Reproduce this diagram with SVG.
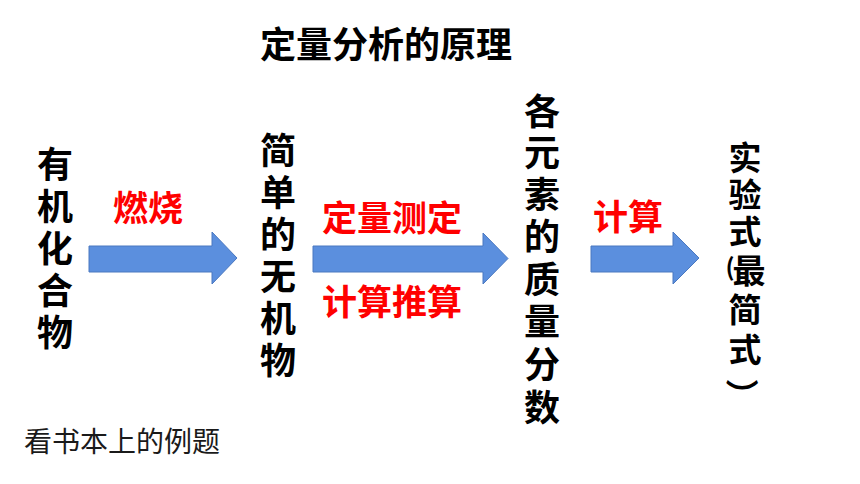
<svg xmlns="http://www.w3.org/2000/svg" width="860" height="484" viewBox="0 0 860 484">
<style>
.n{font-family:"Noto Sans CJK SC","Noto Sans",sans-serif;font-weight:700;font-size:36px;fill:#000;text-anchor:middle}
.c{font-size:33px}
.lab{font-family:"Noto Sans CJK SC","Noto Sans",sans-serif;font-weight:700;font-size:35px;fill:#ff0000;text-anchor:middle}
.arr{fill:#5b8fde;stroke:#4a78c0;stroke-width:1}
.note{font-family:"Noto Sans CJK SC","Noto Sans",sans-serif;font-weight:400;font-size:28px;fill:#1a1a1a}
</style>
<rect width="860" height="484" fill="#fff"/>
<text id="title" class="n" x="386" y="58">定量分析的原理</text>
<g id="connectors">
<polygon class="arr" points="89,246 212,246 212,232 237,258 212,284 212,272 89,272"/>
<polygon class="arr" points="313,246 483,246 483,233 508,258.5 483,284 483,272 313,272"/>
<polygon class="arr" points="591,246 673,246 673,232 699,258 673,284 673,272 591,272"/>
<text class="lab" x="148" y="221">燃烧</text>
<text class="lab" x="392" y="231">定量测定</text>
<text class="lab" x="392" y="315">计算推算</text>
<text class="lab" x="628" y="230">计算</text>
</g>
<g id="node1">
<text class="n"><tspan x="55" y="178">有</tspan><tspan x="55" y="220">机</tspan><tspan x="55" y="262">化</tspan><tspan x="55" y="304">合</tspan><tspan x="55" y="346">物</tspan></text>
</g>
<g id="node2">
<text class="n"><tspan x="278" y="164">简</tspan><tspan x="278" y="206">单</tspan><tspan x="278" y="248">的</tspan><tspan x="278" y="290">无</tspan><tspan x="278" y="332">机</tspan><tspan x="278" y="374">物</tspan></text>
</g>
<g id="node3">
<text class="n"><tspan x="542" y="125">各</tspan><tspan x="542" y="166">元</tspan><tspan x="542" y="208">素</tspan><tspan x="542" y="250">的</tspan><tspan x="542" y="293">质</tspan><tspan x="542" y="335">量</tspan><tspan x="542" y="378">分</tspan><tspan x="542" y="421">数</tspan></text>
</g>
<g id="node4">
<text class="n c"><tspan x="745" y="170">实</tspan><tspan x="745" y="207">验</tspan><tspan x="745" y="244">式</tspan><tspan x="730" y="276" style="font-size:24px">(</tspan><tspan x="749" y="283">最</tspan><tspan x="745" y="322">简</tspan><tspan x="745" y="362">式</tspan></text>
<text class="n c" x="730" y="395" transform="rotate(90 730 395)">）</text>
</g>
<text id="note" class="note" x="24" y="452">看书本上的例题</text>
</svg>
